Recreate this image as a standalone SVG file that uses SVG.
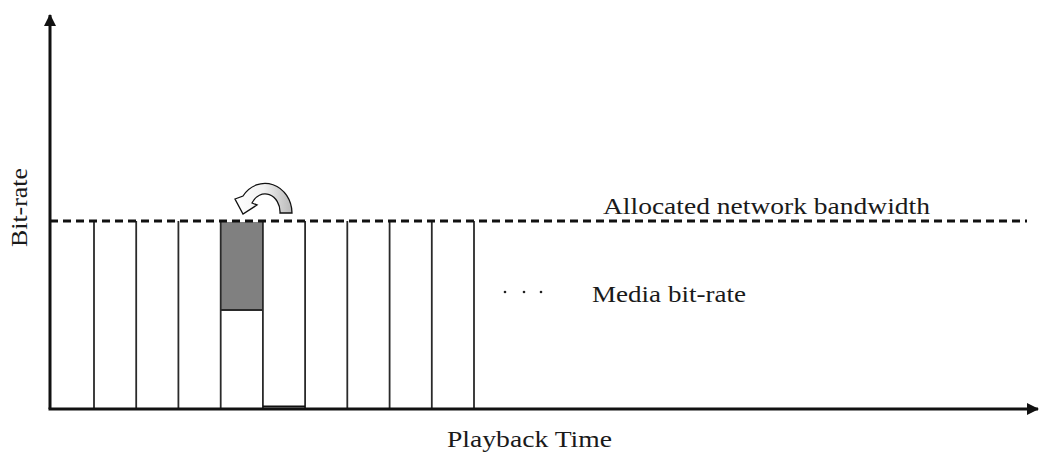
<svg xmlns="http://www.w3.org/2000/svg" width="1039" height="455" viewBox="0 0 1039 455">
  <style>
    .lbl { font-family: "Liberation Serif", "Times New Roman", serif; font-size: 24px; fill: #1a1a1a; }
    .axis { stroke: #111; stroke-width: 3; fill: none; }
    .col { stroke: #2a2a2a; stroke-width: 1.8; fill: none; }
    .band { stroke: #111; stroke-width: 3; stroke-dasharray: 8 5; fill: none; }
    .dot { fill: #222; }
  </style>
  <defs>
    <marker id="head" viewBox="0 0 12 12" refX="11" refY="6" markerWidth="12" markerHeight="12" markerUnits="userSpaceOnUse" orient="auto">
      <path d="M0,0 L12,6 L0,12 Z" fill="#111"/>
    </marker>
    <linearGradient id="swapFill" x1="0" y1="0" x2="1" y2="0">
      <stop offset="0" stop-color="#ffffff"/>
      <stop offset="0.5" stop-color="#f2f2f2"/>
      <stop offset="1" stop-color="#b8b8b8"/>
    </linearGradient>
  </defs>

  <!-- media segments -->
  <g id="segments">
    <rect x="221" y="222" width="42" height="88" fill="#808080"/>
    <line class="col" x1="221" y1="310" x2="263" y2="310"/>
    <line class="col" x1="94" y1="221" x2="94" y2="409"/>
    <line class="col" x1="136.2" y1="221" x2="136.2" y2="409"/>
    <line class="col" x1="178.4" y1="221" x2="178.4" y2="409"/>
    <line class="col" x1="220.7" y1="221" x2="220.7" y2="409"/>
    <line class="col" x1="262.9" y1="221" x2="262.9" y2="409"/>
    <line class="col" x1="305.1" y1="221" x2="305.1" y2="409"/>
    <line class="col" x1="347.3" y1="221" x2="347.3" y2="409"/>
    <line class="col" x1="389.6" y1="221" x2="389.6" y2="409"/>
    <line class="col" x1="431.8" y1="221" x2="431.8" y2="409"/>
    <line class="col" x1="474" y1="221" x2="474" y2="409"/>
    <line x1="263" y1="406.5" x2="305" y2="406.5" stroke="#111" stroke-width="2.2"/>
  </g>

  <!-- allocated bandwidth level -->
  <g id="bandwidth">
    <line class="band" x1="50" y1="221" x2="1027" y2="221"/>
    <text class="lbl" x="603" y="214" textLength="327" lengthAdjust="spacingAndGlyphs">Allocated network bandwidth</text>
  </g>

  <!-- curved swap arrow -->
  <g id="swap">
    <path d="M292,213 A27,30 0 0 0 243,196 L235,199 L243,214 L257,205 L252,203 A15,18 0 0 1 280,213 Z" fill="url(#swapFill)" stroke="#111" stroke-width="1.3" stroke-linejoin="miter"/>
  </g>

  <g id="media-label">
    <circle class="dot" cx="505" cy="292" r="1.3"/>
    <circle class="dot" cx="524" cy="292" r="1.3"/>
    <circle class="dot" cx="541" cy="292" r="1.3"/>
    <text class="lbl" x="592" y="302" textLength="154" lengthAdjust="spacingAndGlyphs">Media bit-rate</text>
  </g>

  <!-- axes -->
  <g id="axes">
    <line class="axis" x1="50" y1="409" x2="50" y2="15" marker-end="url(#head)"/>
    <line class="axis" x1="48.5" y1="409" x2="1038" y2="409" marker-end="url(#head)"/>
  </g>

  <g id="axis-labels">
    <text class="lbl" x="447" y="447" textLength="165" lengthAdjust="spacingAndGlyphs">Playback Time</text>
    <text class="lbl" transform="translate(27,247) rotate(-90)" x="0" y="0" textLength="79" lengthAdjust="spacingAndGlyphs">Bit-rate</text>
  </g>
</svg>
